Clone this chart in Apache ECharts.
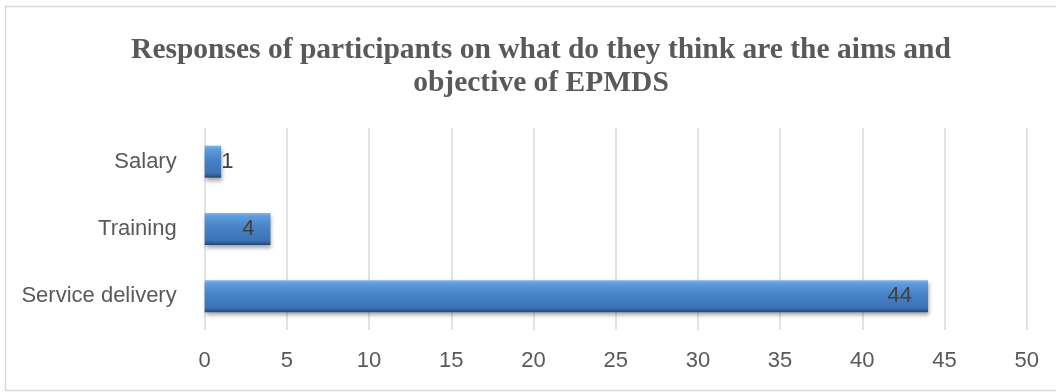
<!DOCTYPE html>
<html>
<head>
<meta charset="utf-8">
<script src="https://cdn.jsdelivr.net/npm/echarts@6/dist/echarts.min.js"></script>
<style>
  html, body { margin: 0; padding: 0; background: #ffffff; }
  #chart { width: 1056px; height: 392px; }
</style>
</head>
<body>
<div id="chart"></div>
<script>
// Answer categories, listed from bottom to top of the bar chart
const categories = ['Service delivery', 'Training', 'Salary'];
// Number of participants giving each answer
const counts = [44, 4, 1];
// Value axis range
const axisMin = 0;
const axisMax = 50;
const axisStep = 5;

const titleText = 'Responses of participants on what do they think are the aims and\nobjective of EPMDS';

const barFill = new echarts.graphic.LinearGradient(0, 0, 0, 1, [
  { offset: 0.00, color: '#7db4ea' },
  { offset: 0.10, color: '#5e9ddc' },
  { offset: 0.45, color: '#4682c6' },
  { offset: 0.85, color: '#3b74b6' },
  { offset: 0.93, color: '#2f5f97' },
  { offset: 1.00, color: '#1f4373' }
]);

const chart = echarts.init(document.getElementById('chart'), null, { renderer: 'canvas' });

chart.setOption({
  backgroundColor: '#ffffff',
  animation: false,
  title: {
    text: titleText,
    left: 536,
    top: 29,
    textAlign: 'center',
    textStyle: {
      fontFamily: 'Liberation Serif',
      fontWeight: 'bold',
      fontSize: 29.5,
      lineHeight: 33,
      color: '#595959'
    }
  },
  graphic: [{
    type: 'rect',
    shape: { x: 5.5, y: 6.5, width: 1070, height: 384 },
    style: { fill: 'none', stroke: '#d9d9d9', lineWidth: 1.5 },
    silent: true,
    z: -1
  }],
  grid: { left: 204.7, right: 29.3, top: 128, bottom: 62 },
  xAxis: {
    type: 'value',
    min: axisMin,
    max: axisMax,
    interval: axisStep,
    axisLine: { show: false },
    axisTick: { show: false },
    splitLine: { show: true, lineStyle: { color: '#d9d9d9', width: 1.5 } },
    axisLabel: {
      fontFamily: 'Liberation Sans',
      fontSize: 22,
      color: '#595959',
      margin: 20
    }
  },
  yAxis: {
    type: 'category',
    data: categories,
    axisLine: { show: false },
    axisTick: { show: false },
    axisLabel: {
      fontFamily: 'Liberation Sans',
      fontSize: 22,
      color: '#595959',
      margin: 28
    }
  },
  series: [{
    type: 'bar',
    data: counts.map(function (v) {
      // a bar too short to hold its label gets it just past its end
      const small = v < 2;
      return {
        value: v,
        label: small
          ? { position: 'right', distance: 0 }
          : { position: 'insideRight', distance: 16 }
      };
    }),
    barWidth: 32,
    itemStyle: {
      color: barFill,
      shadowColor: 'rgba(0,0,0,0.35)',
      shadowBlur: 4,
      shadowOffsetX: 1,
      shadowOffsetY: 3
    },
    label: {
      show: true,
      fontFamily: 'Liberation Sans',
      fontSize: 22,
      color: '#404040'
    }
  }]
});
</script>
</body>
</html>
